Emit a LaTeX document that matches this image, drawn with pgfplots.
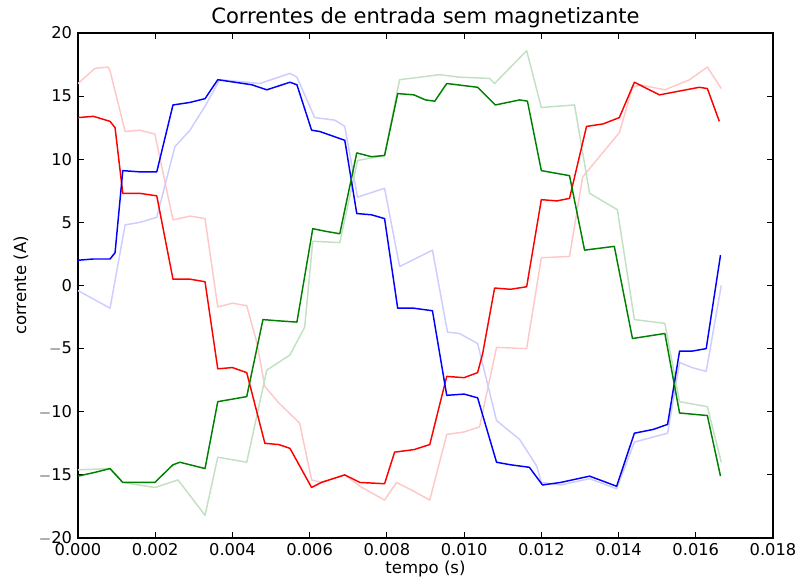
\documentclass[border=0pt]{standalone}
\usepackage{pgfplots}
\pgfplotsset{compat=1.18}
\usepackage{fontspec}
\setmainfont{DejaVu Sans}
\definecolor{mred}{rgb}{1,0,0}
\definecolor{mblue}{rgb}{0,0,1}
\definecolor{mgreen}{rgb}{0,0.5,0}
\definecolor{lred}{RGB}{255,200,200}
\definecolor{lblue}{RGB}{205,205,255}
\definecolor{lgreen}{RGB}{195,224,195}
\begin{document}
\begin{tikzpicture}
\begin{axis}[
  scale only axis,
  width=521.25pt, height=378.75pt,
  xmin=0, xmax=0.018, ymin=-20, ymax=20,
  xtick={0,0.002,0.004,0.006,0.008,0.010,0.012,0.014,0.016,0.018},
  xticklabels={0.000,0.002,0.004,0.006,0.008,0.010,0.012,0.014,0.016,0.018},
  ytick={-20,-15,-10,-5,0,5,10,15,20},
  yticklabels={$-$20,$-$15,$-$10,$-$5,0,5,10,15,20},
  scaled x ticks=false,
  tick align=inside,
  major tick length=4.5pt,
  tick style={black, line width=0.6pt},
  axis line style={line width=0.8pt},
  ticklabel style={font=\fontsize{12.2}{14}\selectfont},
  /pgf/number format/assume math mode=true,
  xticklabel style={yshift=-0.5pt},
  yticklabel style={xshift=-1pt},
  title={Correntes de entrada sem magnetizante},
  title style={font=\fontsize{15.8}{18}\selectfont, at={(axis description cs:0.5,1.03)}, anchor=center, yshift=-6pt},
  xlabel={tempo (s)},
  ylabel={corrente (A)},
  label style={font=\fontsize{12.4}{14}\selectfont},
  xlabel style={at={(axis description cs:0.5,-0.0604)}, anchor=center},
  ylabel style={at={(axis description cs:-0.082,0.5)}, anchor=center},
  every axis plot/.append style={line width=1.1pt, line join=round},
]
\coordinate (SW) at (rel axis cs:0,0);
\coordinate (NE) at (rel axis cs:1,1);
% light series
\addplot[lred] coordinates {(0,16.0) (0.00044,17.2) (0.00078,17.3) (0.00083,17.0) (0.00122,12.2) (0.0016,12.3) (0.00199,12.0) (0.00246,5.2) (0.0029,5.5) (0.00329,5.3) (0.00362,-1.7) (0.004,-1.4) (0.00437,-1.6) (0.00463,-4.5) (0.00484,-8.0) (0.0052,-9.3) (0.00574,-10.9) (0.00605,-15.4) (0.0063,-15.6) (0.00691,-15.0) (0.0073,-15.9) (0.00794,-17.0) (0.00825,-15.6) (0.0087,-16.3) (0.00911,-17.0) (0.00955,-11.8) (0.0100,-11.6) (0.0104,-11.2) (0.01084,-4.9) (0.01162,-5.0) (0.012,2.2) (0.01273,2.3) (0.01307,8.6) (0.01402,12.1) (0.01436,15.7) (0.01454,15.9) (0.0152,15.5) (0.01584,16.3) (0.0163,17.3) (0.01666,15.6)};
\addplot[lblue] coordinates {(0,-0.4) (0.00083,-1.8) (0.00122,4.8) (0.0016,5.0) (0.00204,5.4) (0.00251,11.0) (0.0029,12.3) (0.00329,14.2) (0.00367,16.3) (0.00471,16.0) (0.00549,16.8) (0.00567,16.5) (0.00613,13.3) (0.00665,13.1) (0.00691,12.6) (0.00724,7.0) (0.00794,7.7) (0.00833,1.5) (0.00918,2.8) (0.00957,-3.7) (0.00988,-3.8) (0.01035,-4.6) (0.01084,-10.7) (0.01144,-12.2) (0.01188,-14.3) (0.012,-15.6) (0.0125,-15.8) (0.01325,-15.3) (0.01395,-16.1) (0.01441,-12.4) (0.01527,-11.7) (0.01558,-6.1) (0.0159,-6.5) (0.01627,-6.8) (0.01666,0.0)};
\addplot[lgreen] coordinates {(0,-14.6) (0.00083,-14.5) (0.00116,-15.6) (0.00199,-16.0) (0.00259,-15.4) (0.00329,-18.2) (0.00362,-13.6) (0.00437,-14.0) (0.00489,-6.7) (0.00549,-5.5) (0.00587,-3.3) (0.00608,3.5) (0.00678,3.4) (0.00724,9.9) (0.00794,10.3) (0.00833,16.3) (0.00937,16.7) (0.00988,16.5) (0.01066,16.4) (0.01079,16.0) (0.01162,18.6) (0.012,14.1) (0.01286,14.3) (0.01325,7.3) (0.01397,6.0) (0.01441,-2.7) (0.0152,-3.0) (0.01558,-9.2) (0.0163,-9.6) (0.01666,-14.0)};
% dark series
\addplot[mred] coordinates {(0,13.3) (0.0004,13.4) (0.00083,13.0) (0.00096,12.5) (0.00116,7.3) (0.0016,7.3) (0.00204,7.1) (0.00246,0.5) (0.0029,0.5) (0.00329,0.3) (0.00362,-6.6) (0.004,-6.5) (0.00437,-6.9) (0.00484,-12.5) (0.0052,-12.6) (0.00549,-12.9) (0.00605,-16.0) (0.0063,-15.6) (0.00691,-15.0) (0.0073,-15.6) (0.00794,-15.7) (0.0082,-13.2) (0.0087,-13.0) (0.00911,-12.6) (0.00955,-7.2) (0.0100,-7.3) (0.01035,-6.9) (0.01048,-5.4) (0.01079,-0.2) (0.0112,-0.3) (0.01162,-0.1) (0.012,6.8) (0.0124,6.7) (0.01273,6.9) (0.01317,12.6) (0.0136,12.8) (0.01402,13.3) (0.01441,16.1) (0.01506,15.1) (0.01609,15.7) (0.0163,15.6) (0.01661,13.0)};
\addplot[mblue] coordinates {(0,2.0) (0.0004,2.1) (0.00083,2.1) (0.00096,2.6) (0.00116,9.1) (0.0016,9.0) (0.00204,9.0) (0.00246,14.3) (0.0029,14.5) (0.00329,14.8) (0.00362,16.3) (0.0045,15.9) (0.00489,15.5) (0.00549,16.1) (0.00567,15.9) (0.00605,12.3) (0.00626,12.2) (0.00691,11.5) (0.00722,5.7) (0.0076,5.6) (0.00794,5.3) (0.00828,-1.8) (0.0087,-1.8) (0.00918,-2.0) (0.00955,-8.7) (0.0100,-8.6) (0.01035,-8.9) (0.01084,-14.0) (0.0112,-14.2) (0.01169,-14.4) (0.01203,-15.8) (0.0125,-15.6) (0.01325,-15.1) (0.01395,-15.9) (0.01441,-11.7) (0.0149,-11.4) (0.01527,-11.0) (0.01558,-5.2) (0.0159,-5.2) (0.01627,-5.0) (0.01664,2.4)};
\addplot[mgreen] coordinates {(0,-15.1) (0.00044,-14.8) (0.00083,-14.5) (0.00116,-15.6) (0.00199,-15.6) (0.00246,-14.2) (0.00264,-14.0) (0.00329,-14.5) (0.00362,-9.2) (0.004,-9.0) (0.00437,-8.8) (0.00479,-2.7) (0.0052,-2.8) (0.00567,-2.9) (0.00608,4.5) (0.0064,4.3) (0.00678,4.1) (0.00722,10.5) (0.0076,10.2) (0.00794,10.3) (0.00828,15.2) (0.0087,15.1) (0.0090,14.7) (0.00924,14.6) (0.00955,16.0) (0.01035,15.7) (0.01081,14.3) (0.01144,14.7) (0.01164,14.6) (0.012,9.1) (0.01273,8.7) (0.01312,2.8) (0.01389,3.1) (0.01436,-4.2) (0.0152,-3.8) (0.01558,-10.1) (0.0163,-10.3) (0.01664,-15.1)};
\end{axis}
\pgfresetboundingbox
\path ([xshift=-58.5pt,yshift=-30.75pt]SW) rectangle ([xshift=20.25pt,yshift=24.75pt]NE);
\end{tikzpicture}
\end{document}
